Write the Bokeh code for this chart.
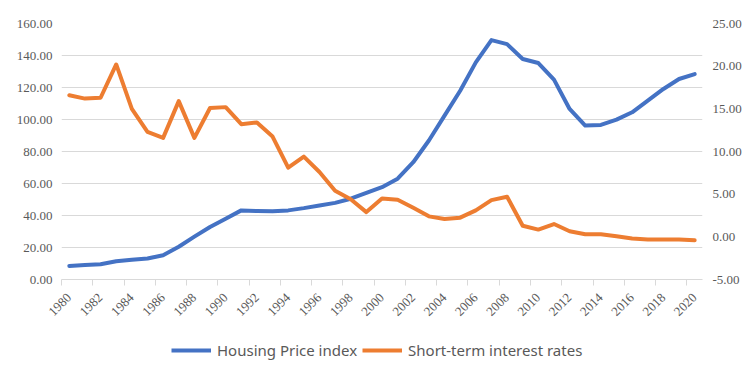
from bokeh.plotting import figure
from bokeh.layouts import column
from bokeh.models import Range1d, LinearAxis, FixedTicker, NumeralTickFormatter, Legend, LegendItem
from bokeh.embed import file_html
from bokeh.resources import INLINE
import math

years = list(range(1980, 2021))
housing_price_index = [8.5, 9.0, 9.5, 11.4, 12.3, 13.1, 15.2, 20.5, 26.8, 32.8,
                       38.0, 43.2, 42.8, 42.6, 43.2, 44.6, 46.3, 47.9, 50.5, 54.1,
                       57.7, 63.0, 73.3, 86.9, 102.4, 118.0, 135.7, 149.6, 147.1, 137.8,
                       135.3, 124.9, 106.6, 96.2, 96.6, 99.9, 104.5, 111.8, 119.1, 125.3,
                       128.4]
short_term_rates = [16.6, 16.2, 16.3, 20.2, 15.0, 12.3, 11.6, 15.9, 11.6, 15.1,
                    15.2, 13.2, 13.4, 11.75, 8.1, 9.4, 7.6, 5.4, 4.4, 2.9,
                    4.5, 4.35, 3.4, 2.4, 2.1, 2.25, 3.1, 4.3, 4.7, 1.3,
                    0.85, 1.5, 0.65, 0.3, 0.3, 0.06, -0.2, -0.3, -0.3, -0.3,
                    -0.4]
series_names = ["Housing Price index", "Short-term interest rates"]
left_ticks = [0, 20, 40, 60, 80, 100, 120, 140, 160]
right_ticks = [-5, 0, 5, 10, 15, 20, 25]
label_years = list(range(1980, 2021, 2))
boundary_ticks = [y - 0.5 for y in range(1980, 2021, 2)]

GRAY = "#595959"
GRID = "#d9d9d9"
BLUE = "#4472C4"
ORANGE = "#ED7D31"

p = figure(width=756, height=330, output_backend="svg", toolbar_location=None,
           x_range=Range1d(1979.5, 2020.5), y_range=Range1d(0, 160),
           min_border_left=61, min_border_right=54, min_border_top=23, min_border_bottom=51)
p.outline_line_color = None
p.background_fill_color = "white"
p.border_fill_color = "white"

p.extra_y_ranges = {"right": Range1d(-5, 25)}

# x axis
xa = p.xaxis[0]
xa.ticker = FixedTicker(ticks=label_years, minor_ticks=boundary_ticks)
xa.major_tick_out = 0
xa.major_tick_in = 0
xa.minor_tick_out = 6
xa.minor_tick_in = 0
xa.minor_tick_line_color = GRID
xa.axis_line_color = GRID
xa.major_label_orientation = math.pi / 4
xa.major_label_standoff = 10
xa.major_label_text_font = "Liberation Serif"
xa.major_label_text_font_size = "13px"
xa.major_label_text_color = GRAY

# left y axis
ya = p.yaxis[0]
ya.ticker = FixedTicker(ticks=left_ticks)
ya.formatter = NumeralTickFormatter(format="0.00")
ya.axis_line_color = None
ya.major_tick_line_color = None
ya.minor_tick_line_color = None
ya.major_tick_out = 0
ya.major_label_standoff = 9
ya.major_label_text_font = "Liberation Serif"
ya.major_label_text_font_size = "13px"
ya.major_label_text_color = GRAY

# right y axis
ra = LinearAxis(y_range_name="right", ticker=FixedTicker(ticks=right_ticks),
                formatter=NumeralTickFormatter(format="0.00"))
ra.axis_line_color = None
ra.major_tick_line_color = None
ra.minor_tick_line_color = None
ra.major_tick_out = 0
ra.major_label_standoff = 10
ra.major_label_text_font = "Liberation Serif"
ra.major_label_text_font_size = "13px"
ra.major_label_text_color = GRAY
p.add_layout(ra, "right")

p.xgrid.grid_line_color = None
p.ygrid.ticker = FixedTicker(ticks=left_ticks)
p.ygrid.grid_line_color = GRID
p.ygrid.grid_line_width = 1

p.line(years, housing_price_index, color=BLUE, line_width=4,
       line_join="round", line_cap="round")
p.line(years, short_term_rates, y_range_name="right", color=ORANGE, line_width=4,
       line_join="round", line_cap="round")

# legend strip (same series; its ranges keep the lines themselves out of view)
lg = figure(width=756, height=48, output_backend="svg", toolbar_location=None,
            x_axis_type=None, y_axis_type=None,
            x_range=Range1d(0, 1), y_range=Range1d(0, 1),
            min_border=0)
lg.outline_line_color = None
lg.xgrid.grid_line_color = None
lg.ygrid.grid_line_color = None
lg.border_fill_color = "white"
l1 = lg.line(years, housing_price_index, color=BLUE, line_width=4)
l2 = lg.line(years, short_term_rates, color=ORANGE, line_width=4)

legend = Legend(items=[LegendItem(label=series_names[0], renderers=[l1]),
                       LegendItem(label=series_names[1], renderers=[l2])],
                orientation="horizontal", location=(110, 18))
legend.label_text_font = "Noto Sans"
legend.label_text_font_size = "15px"
legend.label_text_color = GRAY
legend.glyph_width = 40
legend.label_standoff = 6
legend.spacing = 5
legend.border_line_color = None
legend.background_fill_alpha = 0
legend.padding = 0
legend.margin = 0
lg.add_layout(legend)

layout = column(p, lg, spacing=0)
open("out.html", "w").write(file_html(layout, INLINE))
